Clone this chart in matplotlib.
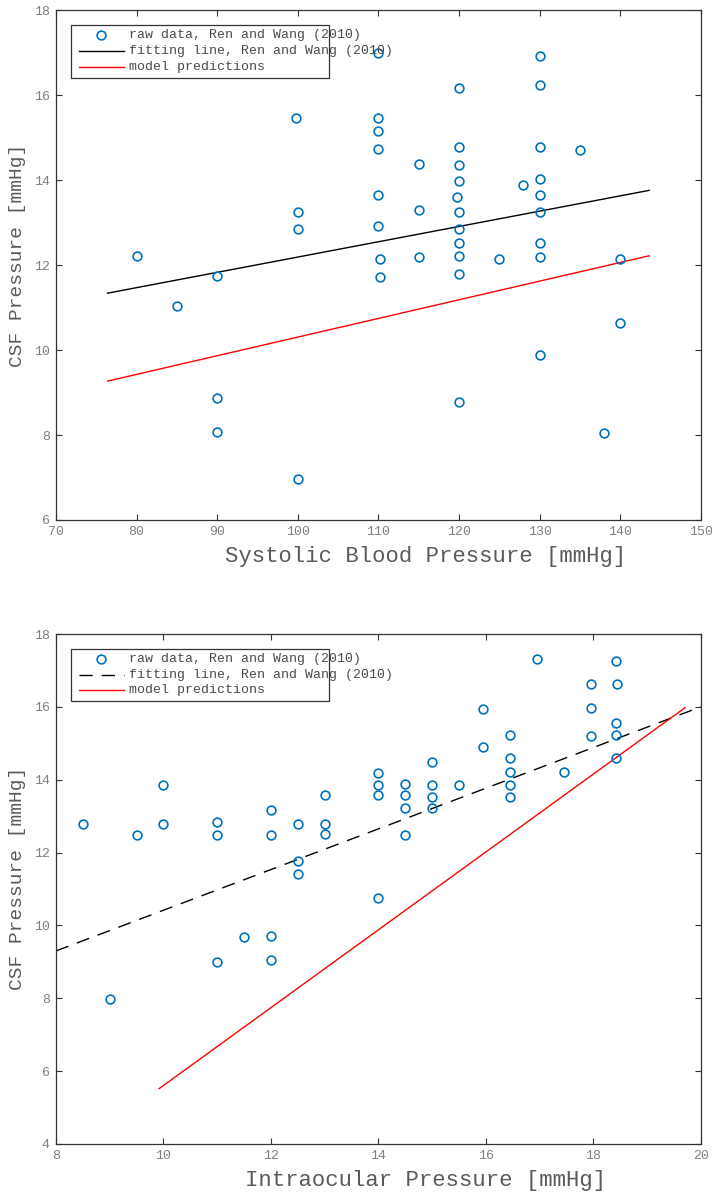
import matplotlib
matplotlib.use("Agg")
import matplotlib.pyplot as plt
from matplotlib.patches import Rectangle
from matplotlib.lines import Line2D

# ── data: systolic blood pressure vs CSF pressure ────────────────────────────
sbp_x = [80, 85, 90, 90, 90,
         99.8, 100, 100, 100,
         110, 110, 110, 110, 110, 110, 110.2, 110.2,
         115, 115, 115,
         120, 120, 120, 120, 119.7, 120, 120, 120, 120, 120, 120,
         125, 128,
         130, 130, 130, 130, 130, 130, 130, 130, 130,
         135, 138, 140, 140]
sbp_csf = [12.21, 11.04, 11.75, 8.88, 8.08,
           15.46, 13.25, 12.84, 6.96,
           16.99, 15.46, 15.15, 14.73, 13.65, 12.91, 12.14, 11.72,
           14.38, 13.29, 12.18,
           16.16, 14.77, 14.35, 13.99, 13.61, 13.25, 12.84, 12.52, 12.21, 11.80, 8.78,
           12.14, 13.89,
           16.93, 16.23, 14.77, 14.02, 13.65, 13.25, 12.52, 12.20, 9.89,
           14.72, 8.04, 12.15, 10.63]
sbp_fit_x = [76.4, 143.6]
sbp_fit_y = [11.34, 13.76]
sbp_model_x = [76.4, 143.6]
sbp_model_y = [9.27, 12.22]

# ── data: intraocular pressure vs CSF pressure ───────────────────────────────
iop_x = [8.5, 9.0, 9.5, 10.0, 10.0, 11.0, 11.0, 11.0, 11.5,
         12.0, 12.0, 12.0, 12.0, 12.5, 12.5, 12.5, 13.0, 13.0, 13.0,
         14.0, 14.0, 14.0, 14.0,
         14.5, 14.5, 14.5, 14.5, 15.0, 15.0, 15.0, 15.0, 15.5,
         15.95, 15.95, 16.45, 16.45, 16.45, 16.45, 16.45, 16.95, 17.45,
         17.95, 17.95, 17.95, 18.42, 18.44, 18.42, 18.42, 18.42]
iop_csf = [12.79, 7.97, 12.47, 13.85, 12.79, 12.83, 12.47, 8.99, 9.68,
           13.17, 12.47, 9.72, 9.04, 12.79, 11.77, 11.40, 13.57, 12.79, 12.50,
           14.18, 13.85, 13.57, 10.75,
           13.89, 13.57, 13.21, 12.47, 14.50, 13.85, 13.53, 13.21, 13.85,
           15.93, 14.91, 15.23, 14.59, 14.22, 13.85, 13.53, 17.32, 14.22,
           16.62, 15.97, 15.20, 17.27, 16.62, 15.56, 15.23, 14.59]
iop_fit_x = [8.0, 20.0]
iop_fit_y = [9.30, 16.0]
iop_model_x = [9.92, 19.71]
iop_model_y = [5.52, 15.98]

LEGEND_LABELS = ["raw data, Ren and Wang (2010)",
                 "fitting line, Ren and Wang (2010)",
                 "model predictions"]

BLUE = "#0072BD"
AX_COL = "#333333"
TICK_COL = "#808080"
LABEL_COL = "#5a5a5a"
MONO = "Liberation Mono"


def style_axes(ax, xticks, yticks, xlabel):
    ax.set_xticks(xticks)
    ax.set_yticks(yticks)
    ax.set_xlim(xticks[0], xticks[-1])
    ax.set_ylim(yticks[0], yticks[-1])
    ax.tick_params(direction="in", length=4.5, width=0.8, color=AX_COL,
                   top=True, right=True, labelsize=9.5, labelcolor=TICK_COL,
                   pad=4.5)
    for lab in ax.get_xticklabels() + ax.get_yticklabels():
        lab.set_family(MONO)
    for sp in ax.spines.values():
        sp.set_color(AX_COL)
        sp.set_linewidth(0.9)
    ax.set_xlabel(xlabel, fontsize=16, family=MONO, color=LABEL_COL)
    ax.xaxis.set_label_coords(0.573, -0.071)
    ax.xaxis.label.set_va("center")
    ax.set_ylabel("CSF Pressure [mmHg]", fontsize=14, family=MONO, color=LABEL_COL)
    ax.yaxis.set_label_coords(-0.06, 0.52)
    ax.yaxis.label.set_va("center")


def draw_legend(ax, fit_style):
    # hand-drawn legend: text spills past the box as in the original
    ax.add_patch(Rectangle((0.0228, 0.868), 0.4005, 0.103, transform=ax.transAxes,
                           fill=True, facecolor="white", edgecolor=AX_COL,
                           linewidth=0.9, zorder=5))
    rows = [0.9505, 0.920, 0.8895]
    ax.add_line(Line2D([0.0698], [rows[0]], transform=ax.transAxes, marker="o",
                       ms=6.3, mew=1.2, mfc="none", mec=BLUE, ls="none", zorder=6))
    ax.add_line(Line2D([0.0361, 0.1059], [rows[1]] * 2, transform=ax.transAxes,
                       color="k", lw=1.0, zorder=6, **fit_style))
    ax.add_line(Line2D([0.0361, 0.1059], [rows[2]] * 2, transform=ax.transAxes,
                       color="r", lw=1.0, zorder=6))
    for y, txt in zip(rows, LEGEND_LABELS):
        ax.text(0.1132, y, txt, transform=ax.transAxes, family=MONO, fontsize=9.5,
                color="#4a4a4a", va="center", ha="left", zorder=7)


fig = plt.figure(figsize=(7.19, 11.94), dpi=100)
ax1 = fig.add_axes([0.0779, 0.5645, 0.8967, 0.4269])
ax2 = fig.add_axes([0.0779, 0.0419, 0.8967, 0.4271])

# top panel
ax1.plot(sbp_x, sbp_csf, "o", ms=6.3, mew=1.2, mfc="none", mec=BLUE, zorder=3)
ax1.plot(sbp_fit_x, sbp_fit_y, color="k", lw=1.0, zorder=2)
ax1.plot(sbp_model_x, sbp_model_y, color="r", lw=1.0, zorder=2)
style_axes(ax1, list(range(70, 151, 10)), list(range(6, 19, 2)),
           "Systolic Blood Pressure [mmHg]")
draw_legend(ax1, {})

# bottom panel
ax2.plot(iop_x, iop_csf, "o", ms=6.3, mew=1.2, mfc="none", mec=BLUE, zorder=3)
ax2.plot(iop_fit_x, iop_fit_y, color="k", lw=1.0, ls=(0, (9.5, 6.5)), zorder=2)
ax2.plot(iop_model_x, iop_model_y, color="r", lw=1.0, zorder=2)
style_axes(ax2, list(range(8, 21, 2)), list(range(4, 19, 2)),
           "Intraocular Pressure [mmHg]")
draw_legend(ax2, {"ls": (0, (9.5, 6.5))})

fig.savefig("out.png", dpi=100)
